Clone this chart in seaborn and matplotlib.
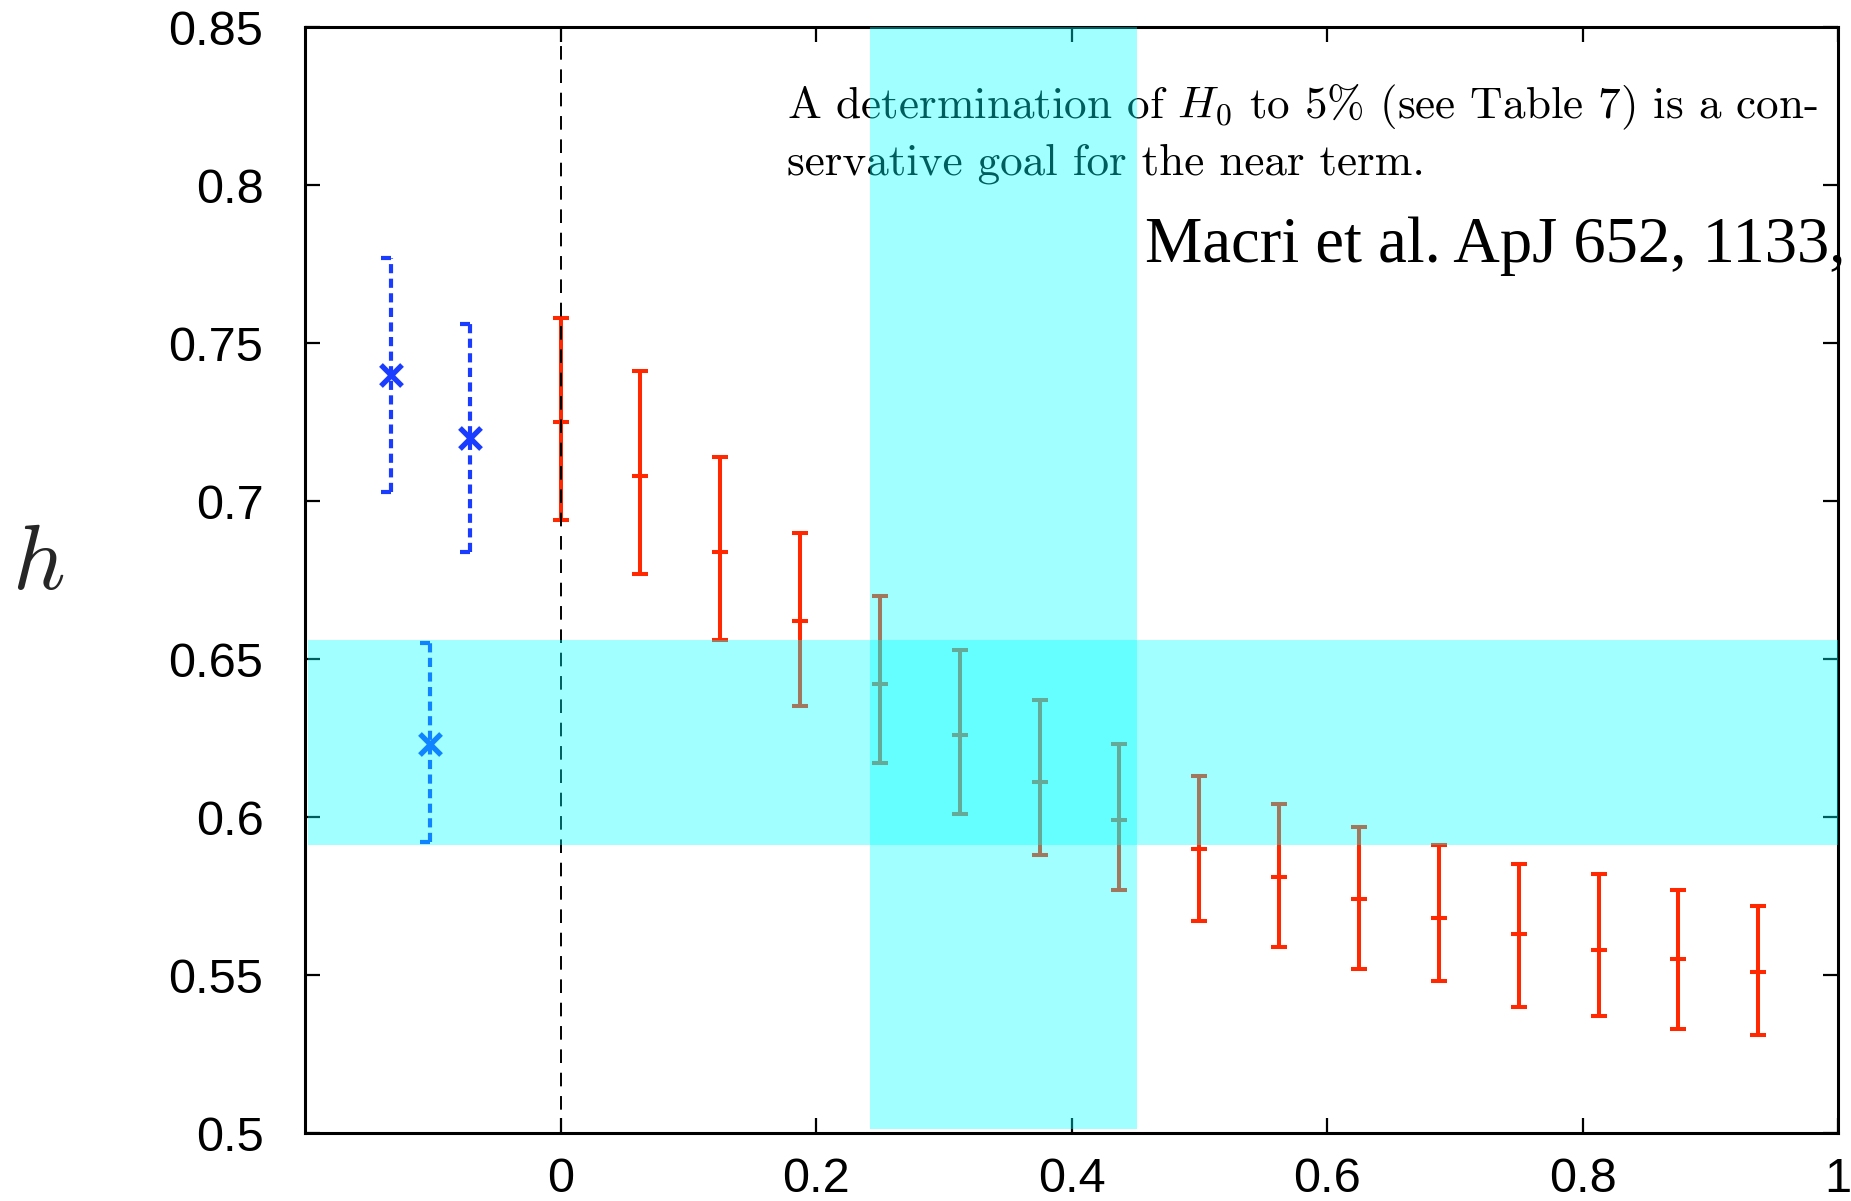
import numpy as np
import pandas as pd
import matplotlib
matplotlib.use('Agg')
import matplotlib.pyplot as plt
from matplotlib.ticker import FuncFormatter
import seaborn as sns

# red points (z, h and error bar ends)
z_red = [0, 0.0625, 0.125, 0.1875, 0.25, 0.3125, 0.375, 0.4375,
         0.5, 0.5625, 0.625, 0.6875, 0.75, 0.8125, 0.875, 0.9375]
h_red = [0.725, 0.708, 0.684, 0.662, 0.642, 0.626, 0.611, 0.599,
         0.590, 0.581, 0.574, 0.568, 0.563, 0.558, 0.555, 0.551]
h_red_hi = [0.758, 0.741, 0.714, 0.690, 0.670, 0.653, 0.637, 0.623,
            0.613, 0.604, 0.597, 0.591, 0.585, 0.582, 0.577, 0.572]
h_red_lo = [0.694, 0.677, 0.656, 0.635, 0.617, 0.601, 0.588, 0.577,
            0.567, 0.559, 0.552, 0.548, 0.540, 0.537, 0.533, 0.531]

# blue local measurements
z_blue = [-0.133, -0.071, -0.102]
h_blue = [0.740, 0.720, 0.623]
h_blue_hi = [0.777, 0.756, 0.655]
h_blue_lo = [0.703, 0.684, 0.592]

# shaded bands
h_band = (0.591, 0.656)
z_band = (0.242, 0.451)

xticks = [0, 0.2, 0.4, 0.6, 0.8, 1]
yticks = [0.5, 0.55, 0.6, 0.65, 0.7, 0.75, 0.8, 0.85]

note_lines = ['A determination of $H_0$ to 5% (see Table 7) is a con-',
              'servative goal for the near term.']
ref_text = 'Macri et al. ApJ 652, 1133,'

RED = '#ff2800'
BLUE = '#1a3cff'

sns.set_style('ticks')
plt.rcParams['font.family'] = ['Liberation Sans', 'DejaVu Sans']
plt.rcParams['mathtext.fontset'] = 'cm'

fig = plt.figure(figsize=(18.51, 12.01), dpi=100)
ax = fig.add_axes([0.1648, 0.0566, 0.8282, 0.9209])

df_blue = pd.DataFrame({'z': z_blue, 'h': h_blue})

# red error bars
yerr = [np.array(h_red) - np.array(h_red_lo), np.array(h_red_hi) - np.array(h_red)]
ax.errorbar(z_red, h_red, yerr=yerr, fmt='_', color=RED, ms=12, mew=2.9,
            elinewidth=2.9, capsize=5.8, capthick=2.9, zorder=2)

# blue dashed error bars with half caps
ax.vlines(z_blue, h_blue_lo, h_blue_hi, colors=BLUE, linewidth=3.0,
          linestyles=(0, (2.2, 1.3)), zorder=2)
halfcap = [(-1, 0), (0, 0)]
ax.plot(z_blue, h_blue_hi, ls='none', marker=halfcap, ms=14, mew=3.0,
        mec=BLUE, zorder=2)
ax.plot(z_blue, h_blue_lo, ls='none', marker=halfcap, ms=14, mew=3.0,
        mec=BLUE, zorder=2)
sns.scatterplot(data=df_blue, x='z', y='h', marker='x', s=230, color=BLUE,
                linewidth=3.8, ax=ax, zorder=3, legend=False)

# dashed line at z = 0
ax.axvline(0, color='black', lw=1.4, ls=(0, (7, 5)), zorder=2.2)

# note text (under the bands)
ax.text(787 / 1851, 1 - 118 / 1201, note_lines[0], transform=fig.transFigure,
        family='cmr10', fontsize=32.5, color='black', zorder=1)
ax.text(787 / 1851, 1 - 175 / 1201, note_lines[1], transform=fig.transFigure,
        family='cmr10', fontsize=32.5, color='black', zorder=1)
ax.text(1145 / 1851, 1 - 262 / 1201, ref_text, transform=fig.transFigure,
        family='Liberation Serif', fontsize=46.5, color='black', zorder=1,
        clip_on=False)

# cyan bands on top
ax.axhspan(h_band[0], h_band[1], xmin=0.002, xmax=1, color='#00ffff',
           alpha=0.37, lw=0, zorder=5)
ax.axvspan(z_band[0], z_band[1], ymin=0.004, ymax=1, color='#00ffff',
           alpha=0.37, lw=0, zorder=5)

ax.set_xlim(-0.2, 1)
ax.set_ylim(0.5, 0.85)
ax.set_xticks(xticks)
ax.set_yticks(yticks)
fmt = FuncFormatter(lambda v, p: '%g' % v)
ax.xaxis.set_major_formatter(fmt)
ax.yaxis.set_major_formatter(fmt)
ax.tick_params(axis='both', direction='in', length=11, width=1.6,
               top=True, right=True, labelsize=35, colors='black')
ax.tick_params(axis='x', pad=17)
ax.tick_params(axis='y', pad=30)
for sp in ax.spines.values():
    sp.set_linewidth(2.2)
    sp.set_color('black')

ax.set_xlabel('')
ax.set_ylabel('$h$', rotation=0, fontsize=66)
ax.yaxis.set_label_coords(-0.174, 0.475)

fig.savefig('out.png', dpi=100)
